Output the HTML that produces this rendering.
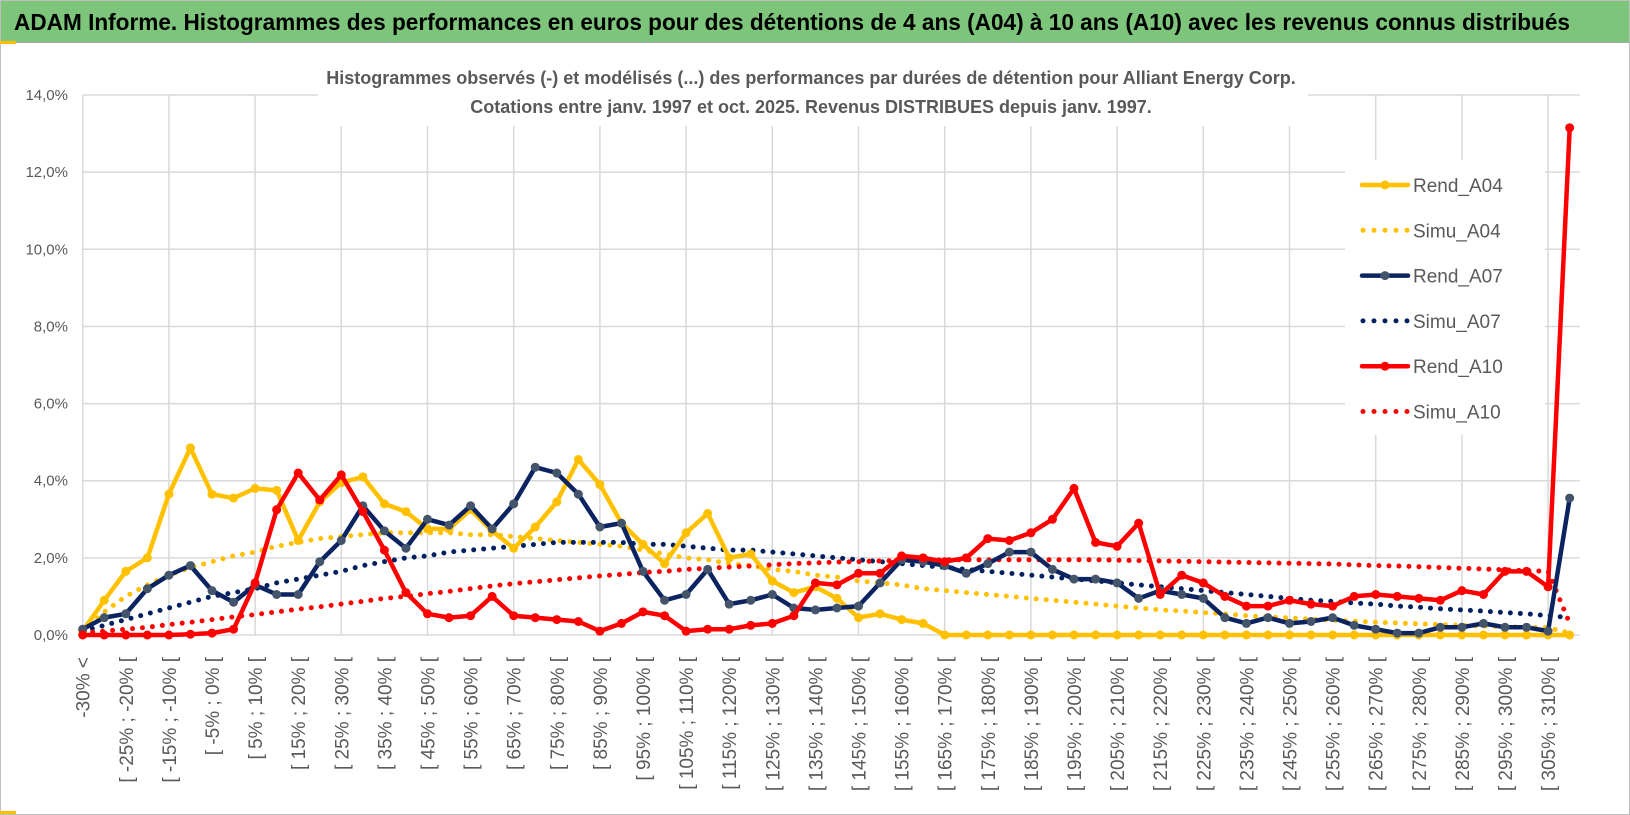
<!DOCTYPE html>
<html><head><meta charset="utf-8"><style>
html,body{margin:0;padding:0;background:#fff;}
svg{display:block;font-family:"Liberation Sans",sans-serif;}
</style></head><body>
<svg id="chart" width="1630" height="815" viewBox="0 0 1630 815">
<rect x="0.5" y="0.5" width="1629" height="814" fill="#fff" stroke="#bfbfbf"/>
<rect x="1" y="1" width="1628" height="41" fill="#7cc57a"/>
<line x1="0" y1="42.5" x2="1630" y2="42.5" stroke="#a6a6a6"/>
<rect x="0" y="41" width="16" height="3" fill="#ffc000"/>
<rect x="0" y="811" width="16" height="3" fill="#ffc000"/>
<text x="14" y="30" font-size="23" font-weight="bold" fill="#000" textLength="1556" lengthAdjust="spacingAndGlyphs">ADAM Informe. Histogrammes des performances en euros pour des détentions de 4 ans (A04) à 10 ans (A10) avec les revenus connus distribués</text>
<g id="grid"></g>
<rect x="318" y="60" width="990" height="66" fill="#fff"/>
<text x="811" y="84" font-size="18" font-weight="bold" fill="#595959" text-anchor="middle">Histogrammes observés (-) et modélisés (...) des performances par durées de détention pour Alliant Energy Corp.</text>
<text x="811" y="113" font-size="18" font-weight="bold" fill="#595959" text-anchor="middle">Cotations entre janv. 1997 et oct. 2025.  Revenus DISTRIBUES depuis janv. 1997.</text>
<g id="yaxis"></g>
<g id="xaxis"></g>
<g id="series"></g>
<g id="legend"></g>
</svg>
<script>
const rendA04 = [0.1,0.9,1.65,2.0,3.65,4.85,3.65,3.55,3.8,3.75,2.45,3.45,3.95,4.1,3.4,3.2,2.75,2.75,3.25,2.7,2.25,2.8,3.45,4.55,3.9,2.9,2.35,1.85,2.65,3.15,2.0,2.1,1.4,1.1,1.25,0.95,0.45,0.55,0.4,0.3,0,0,0,0,0,0,0,0,0,0,0,0,0,0,0,0,0,0,0,0,0,0,0,0,0,0,0,0,0,0];
const simuA04 = [0.1,0.6,1.0,1.3,1.55,1.75,1.9,2.05,2.15,2.3,2.4,2.5,2.55,2.6,2.65,2.65,2.65,2.65,2.6,2.6,2.55,2.5,2.45,2.4,2.35,2.3,2.2,2.1,2.0,1.95,1.85,1.8,1.7,1.65,1.55,1.5,1.4,1.35,1.3,1.2,1.15,1.1,1.05,1.0,0.95,0.9,0.85,0.8,0.75,0.7,0.65,0.62,0.58,0.55,0.5,0.47,0.44,0.41,0.38,0.36,0.33,0.31,0.29,0.27,0.25,0.23,0.22,0.2,0.19,0.05];
const rendA07 = [0.15,0.45,0.55,1.2,1.55,1.8,1.15,0.85,1.3,1.05,1.05,1.9,2.45,3.35,2.7,2.25,3.0,2.85,3.35,2.75,3.4,4.35,4.2,3.65,2.8,2.9,1.65,0.9,1.05,1.7,0.8,0.9,1.05,0.7,0.65,0.7,0.75,1.35,1.95,1.9,1.8,1.6,1.85,2.15,2.15,1.7,1.45,1.45,1.35,0.95,1.15,1.05,0.95,0.45,0.3,0.45,0.3,0.35,0.45,0.25,0.15,0.05,0.05,0.2,0.2,0.3,0.2,0.2,0.1,3.55];
const simuA07 = [0.1,0.25,0.4,0.55,0.7,0.85,1.0,1.1,1.2,1.35,1.45,1.55,1.65,1.8,1.9,2.0,2.05,2.15,2.2,2.25,2.3,2.35,2.4,2.4,2.4,2.4,2.35,2.35,2.3,2.25,2.2,2.2,2.15,2.1,2.05,2.0,1.95,1.9,1.85,1.8,1.75,1.7,1.65,1.6,1.55,1.5,1.45,1.4,1.35,1.3,1.25,1.2,1.15,1.1,1.05,1.0,0.95,0.9,0.87,0.83,0.8,0.75,0.72,0.68,0.65,0.62,0.58,0.55,0.5,0.45];
const rendA10 = [0,0,0,0,0,0.02,0.05,0.15,1.35,3.25,4.2,3.5,4.15,3.2,2.2,1.1,0.55,0.45,0.5,1.0,0.5,0.45,0.4,0.35,0.1,0.3,0.6,0.5,0.1,0.15,0.15,0.25,0.3,0.5,1.35,1.3,1.6,1.6,2.05,2.0,1.9,2.0,2.5,2.45,2.65,3.0,3.8,2.4,2.3,2.9,1.05,1.55,1.35,1.0,0.75,0.75,0.9,0.8,0.75,1.0,1.05,1.0,0.95,0.9,1.15,1.05,1.65,1.65,1.25,13.15];
const simuA10 = [0.05,0.1,0.15,0.2,0.27,0.33,0.4,0.47,0.53,0.6,0.67,0.73,0.8,0.87,0.95,1.0,1.07,1.13,1.2,1.27,1.33,1.38,1.43,1.48,1.53,1.57,1.62,1.65,1.7,1.73,1.76,1.79,1.82,1.85,1.87,1.89,1.9,1.92,1.93,1.94,1.95,1.95,1.95,1.95,1.95,1.95,1.95,1.95,1.94,1.93,1.92,1.91,1.9,1.89,1.88,1.87,1.86,1.85,1.84,1.82,1.8,1.79,1.77,1.75,1.73,1.71,1.69,1.67,1.65,0.3];
const yTicks = [0,2,4,6,8,10,12,14];
const yTickLabels = ["0,0%","2,0%","4,0%","6,0%","8,0%","10,0%","12,0%","14,0%"];
const categories = ["-30% <"];
for (let a = -30; a < 310; a += 5) categories.push("[ " + a + "% ; " + (a + 5) + "% [");
categories.push("310% <");

const NS = "http://www.w3.org/2000/svg";
const X0 = 82.7, DX = 21.55, Y0 = 635, YK = 38.57;
const xs = i => X0 + DX * i;
const ys = v => Y0 - YK * v;
function mk(tag, attrs, parent) {
  const e = document.createElementNS(NS, tag);
  for (const k in attrs) e.setAttribute(k, attrs[k]);
  parent.appendChild(e);
  return e;
}
const grid = document.getElementById("grid");
yTicks.forEach((t, k) => {
  const l = mk("line", {x1: X0, x2: xs(categories.length - 1) + 10, y1: ys(t), y2: ys(t), stroke: "#d9d9d9", "stroke-width": 1.5}, grid);
  
  
});
for (let i = 0; i < categories.length; i += 4) {
  const l = mk("line", {x1: xs(i), x2: xs(i), y1: ys(14), y2: Y0, stroke: "#d9d9d9", "stroke-width": 1.5}, grid);
  
  
}
const yaxis = document.getElementById("yaxis");
yTicks.forEach((t, k) => {
  const tx = mk("text", {x: 68, y: ys(t) + 5, "font-size": 15, fill: "#595959", "text-anchor": "end"}, yaxis);
  tx.textContent = yTickLabels[k];
  
  
});
const xaxis = document.getElementById("xaxis");
categories.forEach((c, i) => {
  if (i % 2) return;
  const tx = mk("text", {x: 0, y: 0, "font-size": 19, fill: "#595959", "text-anchor": "end", transform: "translate(" + (xs(i) + 7) + ",657) rotate(-90)"}, xaxis);
  tx.textContent = c;
  
  
});
const series = document.getElementById("series");
function pts(arr) { return arr.map((v, i) => xs(i).toFixed(1) + "," + ys(v).toFixed(1)).join(" "); }
function dotted(arr, color, name) {
  const p = mk("polyline", {points: pts(arr), fill: "none", stroke: color, "stroke-width": 5, "stroke-linecap": "round", "stroke-dasharray": "0 10"}, series);
  
  
}
function solid(arr, color, mcolor, name) {
  const p = mk("polyline", {points: pts(arr), fill: "none", stroke: color, "stroke-width": 4.5, "stroke-linejoin": "round"}, series);
  
  
  arr.forEach((v, i) => {
    const c = mk("circle", {cx: xs(i), cy: ys(v), r: 4.5, fill: mcolor}, series);
    
    
  });
}
dotted(simuA04, "#ffc000", "simu-a04-line");
dotted(simuA07, "#002060", "simu-a07-line");
dotted(simuA10, "#ff0000", "simu-a10-line");
solid(rendA04, "#ffc000", "#ffc000", "rend-a04-line");
solid(rendA07, "#0b2461", "#44546a", "rend-a07-line");
solid(rendA10, "#ff0000", "#ff0000", "rend-a10-line");

const legend = document.getElementById("legend");
const lbg = mk("rect", {x: 1345, y: 160, width: 200, height: 275, fill: "#fff"}, legend);


const legNames = ["Rend_A04","Simu_A04","Rend_A07","Simu_A07","Rend_A10","Simu_A10"];
const legColors = ["#ffc000","#ffc000","#0b2461","#002060","#ff0000","#ff0000"];
const legMarker = ["#ffc000",null,"#44546a",null,"#ff0000",null];
legNames.forEach((n, k) => {
  const y = 185 + k * 45.3;
  if (legMarker[k]) {
    const l = mk("line", {x1: 1362, x2: 1408, y1: y, y2: y, stroke: legColors[k], "stroke-width": 4.5, "stroke-linecap": "round"}, legend);
    
    
    const c = mk("circle", {cx: 1385, cy: y, r: 4.5, fill: legMarker[k]}, legend);
    
    
  } else {
    const l = mk("line", {x1: 1363, x2: 1408, y1: y, y2: y, stroke: legColors[k], "stroke-width": 5, "stroke-linecap": "round", "stroke-dasharray": "0 11"}, legend);
    
    
  }
  const t = mk("text", {x: 1413, y: y + 7, "font-size": 19, fill: "#595959"}, legend);
  t.textContent = n;
  
  
});
</script>
</body></html>
